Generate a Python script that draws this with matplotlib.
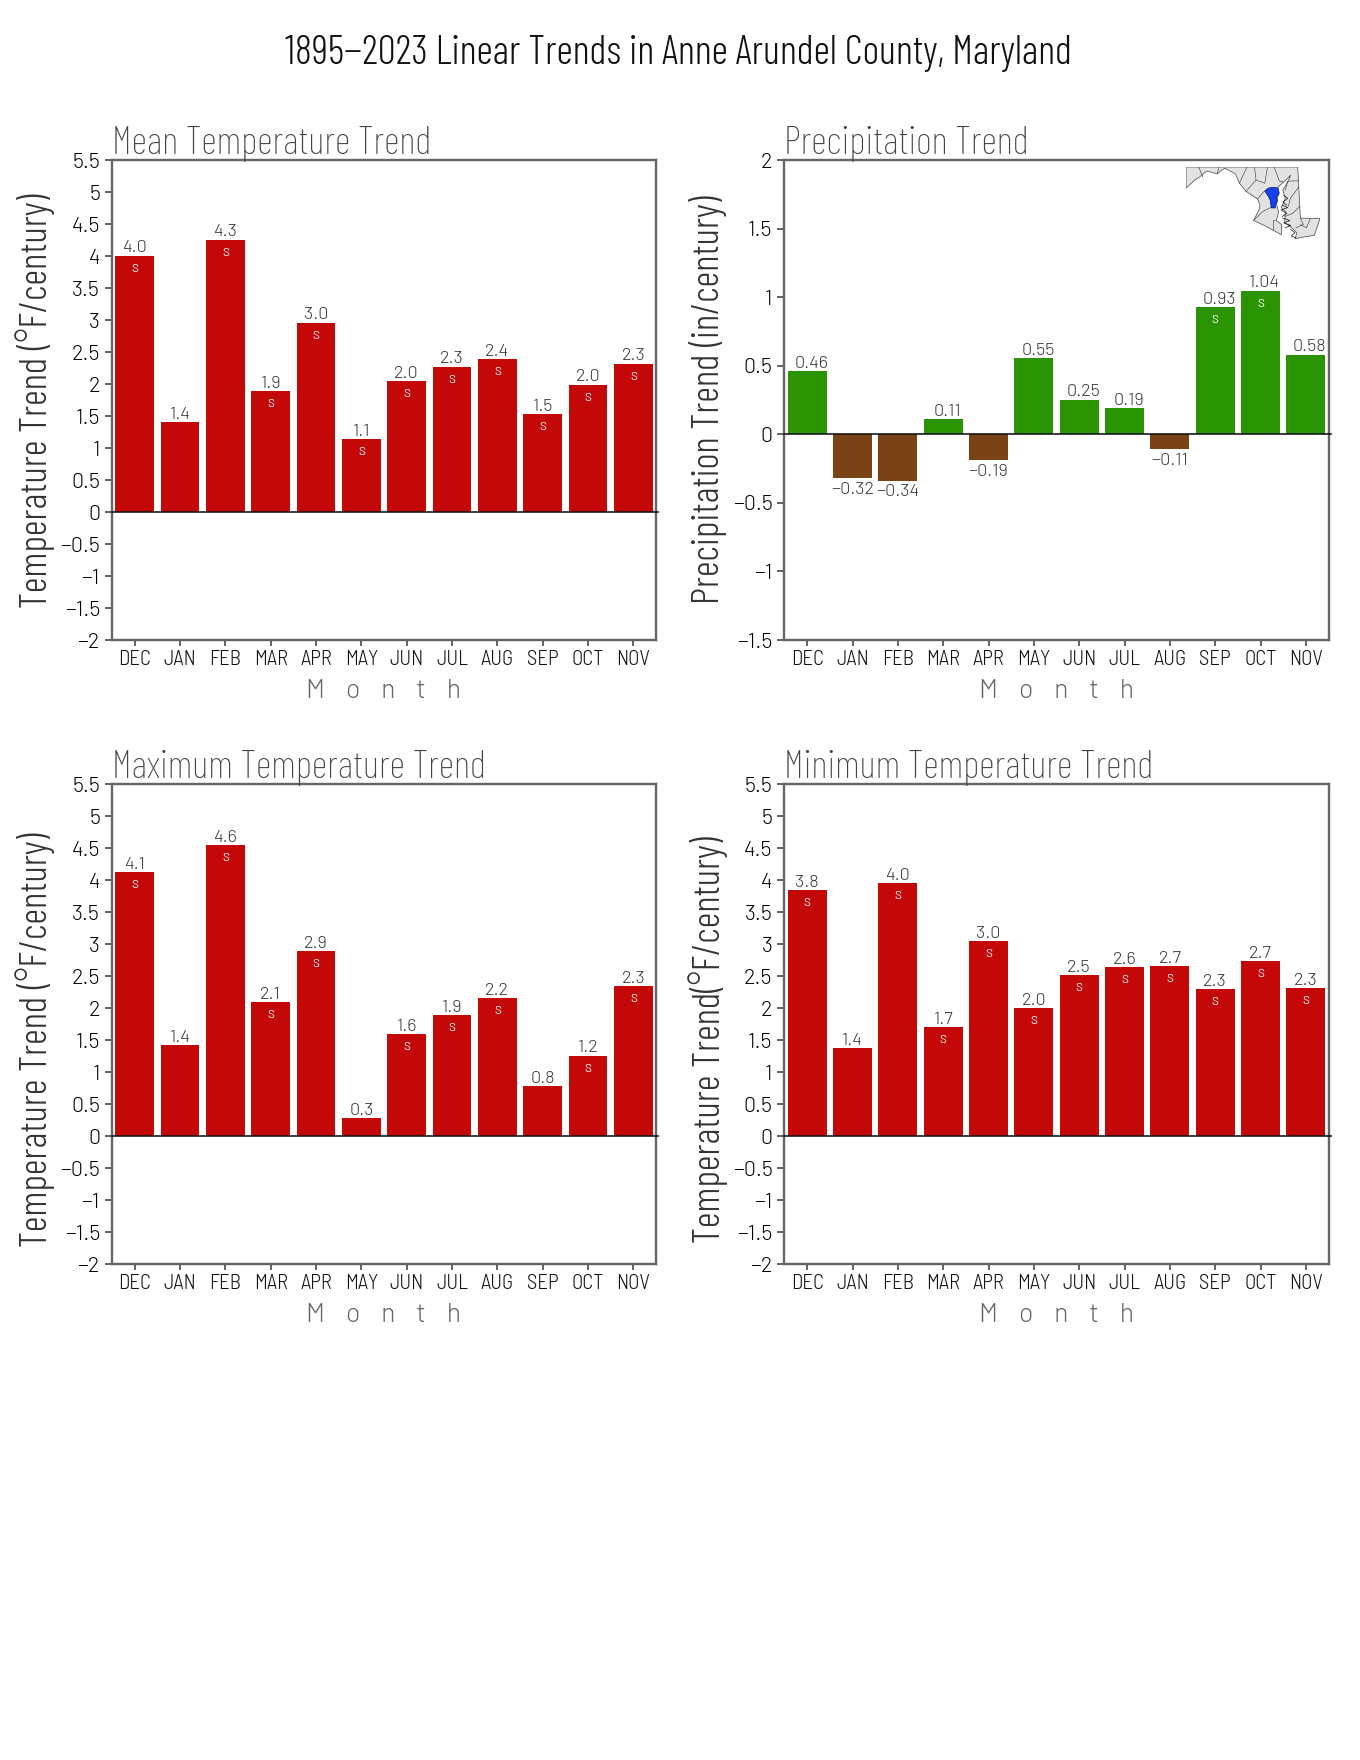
import matplotlib
matplotlib.use("Agg")
import matplotlib.pyplot as plt
from matplotlib import font_manager as fm

names = {f.name for f in fm.fontManager.ttflist}


def pick(*candidates):
    for name in candidates:
        if name in names:
            return name
    return "Liberation Sans"


BIG = pick("Barlow Condensed")
SMALL = pick("Barlow Semi Condensed")
WIDE = pick("Barlow")

MONTHS = ["DEC", "JAN", "FEB", "MAR", "APR", "MAY", "JUN", "JUL", "AUG", "SEP", "OCT", "NOV"]

MEAN_VALUES = [4.00, 1.40, 4.25, 1.885, 2.957, 1.137, 2.04, 2.27, 2.39, 1.525, 1.985, 2.32]
MEAN_LABELS = ["4.0", "1.4", "4.3", "1.9", "3.0", "1.1", "2.0", "2.3", "2.4", "1.5", "2.0", "2.3"]
MEAN_SIG = [1, 0, 1, 1, 1, 1, 1, 1, 1, 1, 1, 1]

PRCP_VALUES = [0.46, -0.32, -0.34, 0.11, -0.19, 0.555, 0.25, 0.19, -0.11, 0.925, 1.045, 0.58]
PRCP_LABELS = ["0.46", "\u22120.32", "\u22120.34", "0.11", "\u22120.19", "0.55", "0.25", "0.19", "\u22120.11", "0.93", "1.04", "0.58"]
PRCP_SIG = [0, 0, 0, 0, 0, 0, 0, 0, 0, 1, 1, 0]

MAX_VALUES = [4.12, 1.415, 4.54, 2.09, 2.886, 0.278, 1.59, 1.885, 2.15, 0.78, 1.25, 2.34]
MAX_LABELS = ["4.1", "1.4", "4.6", "2.1", "2.9", "0.3", "1.6", "1.9", "2.2", "0.8", "1.2", "2.3"]
MAX_SIG = [1, 0, 1, 1, 1, 0, 1, 1, 1, 0, 1, 1]

MIN_VALUES = [3.84, 1.37, 3.95, 1.70, 3.04, 2.00, 2.51, 2.64, 2.65, 2.29, 2.73, 2.31]
MIN_LABELS = ["3.8", "1.4", "4.0", "1.7", "3.0", "2.0", "2.5", "2.6", "2.7", "2.3", "2.7", "2.3"]
MIN_SIG = [1, 0, 1, 1, 1, 1, 1, 1, 1, 1, 1, 1]

TEMP_TICKS = [-2, -1.5, -1, -0.5, 0, 0.5, 1, 1.5, 2, 2.5, 3, 3.5, 4, 4.5, 5, 5.5]
PRCP_TICKS = [-1.5, -1, -0.5, 0, 0.5, 1, 1.5, 2]

# Maryland outline, lon / lat
MD_LON = [-79.487, -75.788, -75.70, -75.05, -75.24, -75.37, -75.62, -75.87, -75.82, -75.95, -76.22, -76.20, -76.33, -76.20, -76.28, -76.12, -76.02, -76.15, -76.42, -76.53, -76.43, -76.50, -76.42, -76.50, -76.32, -76.33, -76.62, -76.90, -77.25, -77.05, -77.04, -77.12, -77.50, -77.72, -77.85, -78.20, -78.35, -78.45, -78.80, -79.05, -79.20, -79.487]
MD_LAT = [39.72, 39.72, 38.46, 38.45, 38.03, 38.02, 37.99, 37.95, 38.10, 38.20, 38.35, 38.62, 38.72, 38.95, 39.15, 39.35, 39.52, 39.42, 39.24, 39.15, 39.02, 38.85, 38.60, 38.40, 38.30, 38.05, 38.17, 38.28, 38.40, 38.70, 38.79, 38.93, 39.12, 39.32, 39.55, 39.69, 39.62, 39.55, 39.62, 39.47, 39.40, 39.20]
AA_LON = [-76.71, -76.60, -76.44, -76.40, -76.49, -76.46, -76.52, -76.53, -76.67, -76.69, -76.75, -76.88, -76.78]
AA_LAT = [39.21, 39.22, 39.20, 39.07, 38.98, 38.88, 38.78, 38.71, 38.71, 38.88, 38.98, 39.13, 39.19]
COUNTY_LINES = [
    ([-79.07, -78.93], [39.72, 39.47]),
    ([-78.40, -78.45], [39.72, 39.55]),
    ([-77.47, -77.72], [39.72, 39.32]),
    ([-77.22, -77.17, -77.50], [39.72, 39.40, 39.12]),
    ([-76.79, -76.88, -77.17], [39.72, 39.32, 39.40]),
    ([-76.57, -76.40, -76.28], [39.72, 39.38, 39.35]),
    ([-77.12, -76.89, -76.88], [38.93, 39.13, 39.13]),
    ([-76.69, -76.95, -77.25], [38.72, 38.62, 38.40]),
    ([-76.53, -76.62, -76.62], [38.42, 38.42, 38.17]),
    ([-75.76, -76.12, -76.20], [39.38, 39.37, 39.15]),
    ([-75.75, -76.03, -76.10], [39.23, 38.95, 38.75]),
    ([-75.72, -75.95, -76.20], [38.75, 38.58, 38.50]),
    ([-75.70, -75.60, -75.85], [38.46, 38.30, 38.22]),
    ([-75.37, -75.50, -75.70], [38.45, 38.22, 38.30]),
]
SHORE_LINES = [
    ([-76.25, -76.12, -76.28, -76.15], [39.02, 38.95, 38.85, 38.78]),
    ([-76.30, -76.12, -76.34, -76.15, -76.30], [38.78, 38.72, 38.66, 38.58, 38.50]),
    ([-76.28, -76.05, -76.25, -76.02, -76.20], [38.46, 38.40, 38.34, 38.28, 38.22]),
    ([-76.02, -75.88, -76.00, -75.85], [38.18, 38.10, 38.02, 37.97]),
]

RED = "#C40808"
GREEN = "#2A9402"
BROWN = "#7A4316"
SPINE = "#666666"
W, H = 1360, 1760
PX = 0.72  # points per pixel at dpi 100


def axes_rect(left, top, right, bottom):
    return [left / W, 1 - bottom / H, (right - left) / W, (bottom - top) / H]


def fmt_tick(v):
    return f"{v:g}".replace("-", "\u2212")


def panel(rect, title, ylabel, ylab_x, ylab_y, values, labels, sig, ticks, ylim, pos_shift=0):
    left, top, right, bottom = rect
    ax = fig.add_axes(axes_rect(*rect))
    x = list(range(1, 13))
    colors = [GREEN if v >= 0 else BROWN for v in values] if pos_shift else [RED] * 12
    ax.bar(x, values, width=0.86, color=colors, linewidth=0, zorder=2)
    ax.set_xlim(0.5, 12.5)
    ax.set_ylim(*ylim)
    ax.set_xticks(x)
    ax.set_xticklabels(MONTHS, fontsize=15, color="#111111", family=SMALL, fontweight=300)
    ax.set_yticks(ticks)
    ax.set_yticklabels([fmt_tick(t) for t in ticks], fontsize=15.5, color="#000000", family=WIDE, fontweight=300)
    ax.tick_params(axis="x", length=6 * PX, width=1.6 * PX, color="#444444", pad=4 * PX)
    ax.tick_params(axis="y", length=7 * PX, width=2 * PX, color=SPINE, pad=5 * PX)
    for s in ax.spines.values():
        s.set_linewidth(2.4 * PX)
        s.set_color(SPINE)
    ax.plot([0.5, 12.55], [0, 0], color="#111111", lw=1.6 * PX, clip_on=False, zorder=3)
    for xi, v, lab, s in zip(x, values, labels, sig):
        if v >= 0:
            ax.annotate(lab, (xi, v), xytext=(pos_shift * PX, -0.5 * PX), textcoords="offset points",
                        ha="center", va="bottom", fontsize=13, color="#333333", family=WIDE, fontweight=300, zorder=4)
        else:
            ax.annotate(lab, (xi, v), xytext=(0, -3.5 * PX), textcoords="offset points",
                        ha="center", va="top", fontsize=13, color="#333333", family=WIDE, fontweight=300, zorder=4)
        if s:
            ax.annotate("S", (xi, v), xytext=(0, -13 * PX), textcoords="offset points",
                        ha="center", va="center", fontsize=8.5, color="white", family=WIDE, zorder=4)
    fig.text(left / W, 1 - (top - 6) / H, title, fontsize=28, color="#444444", ha="left", va="baseline",
             family=BIG, fontweight=200)
    fig.text(ylab_x / W, 1 - ylab_y / H, ylabel, fontsize=28, color="#333333", rotation=90,
             ha="center", va="center", family=BIG, fontweight=300)
    fig.text((left + right) / 2 / W, 1 - (bottom + 58) / H, "M    o    n    t    h", fontsize=19,
             color="#666666", ha="center", va="baseline", family=WIDE, fontweight=300)
    return ax


fig = plt.figure(figsize=(W / 100, H / 100), dpi=100, facecolor="white")
fig.text(0.4985, 1 - 64 / H, "1895\u22122023 Linear Trends in Anne Arundel County, Maryland",
         fontsize=29, color="#111111", ha="center", va="baseline", family=BIG, fontweight=300)

YL_F = "Temperature Trend (\u00b0F/century)"
panel((112, 160, 656, 640), "Mean Temperature Trend", YL_F, 35, 401, MEAN_VALUES, MEAN_LABELS, MEAN_SIG, TEMP_TICKS, (-2, 5.5))
panel((784.5, 160, 1328.5, 640), "Precipitation Trend", "Precipitation Trend (in/century)", 708, 400, PRCP_VALUES, PRCP_LABELS, PRCP_SIG, PRCP_TICKS, (-1.5, 2), pos_shift=4)
panel((112, 784, 656, 1264), "Maximum Temperature Trend", YL_F, 35, 1040, MAX_VALUES, MAX_LABELS, MAX_SIG, TEMP_TICKS, (-2, 5.5))
panel((784.5, 784, 1328.5, 1264), "Minimum Temperature Trend", "Temperature Trend(\u00b0F/century)", 708, 1040, MIN_VALUES, MIN_LABELS, MIN_SIG, TEMP_TICKS, (-2, 5.5))

# Locator map
m = fig.add_axes(axes_rect(1186, 167, 1320, 240), zorder=5)
m.axis("off")
m.set_xlim(-79.49, -75.05)
m.set_ylim(37.92, 39.72)
m.fill(MD_LON, MD_LAT, facecolor="#E2E2E2", edgecolor="#444444", linewidth=0.5)
for lx, ly in COUNTY_LINES:
    m.plot(lx, ly, color="#333333", lw=0.4)
for lx, ly in SHORE_LINES:
    m.plot(lx, ly, color="#111111", lw=0.5)
m.fill(AA_LON, AA_LAT, facecolor="#1540F0", edgecolor="#0A1A70", linewidth=0.5, zorder=4)

fig.savefig("out.png", dpi=100, facecolor="white")
